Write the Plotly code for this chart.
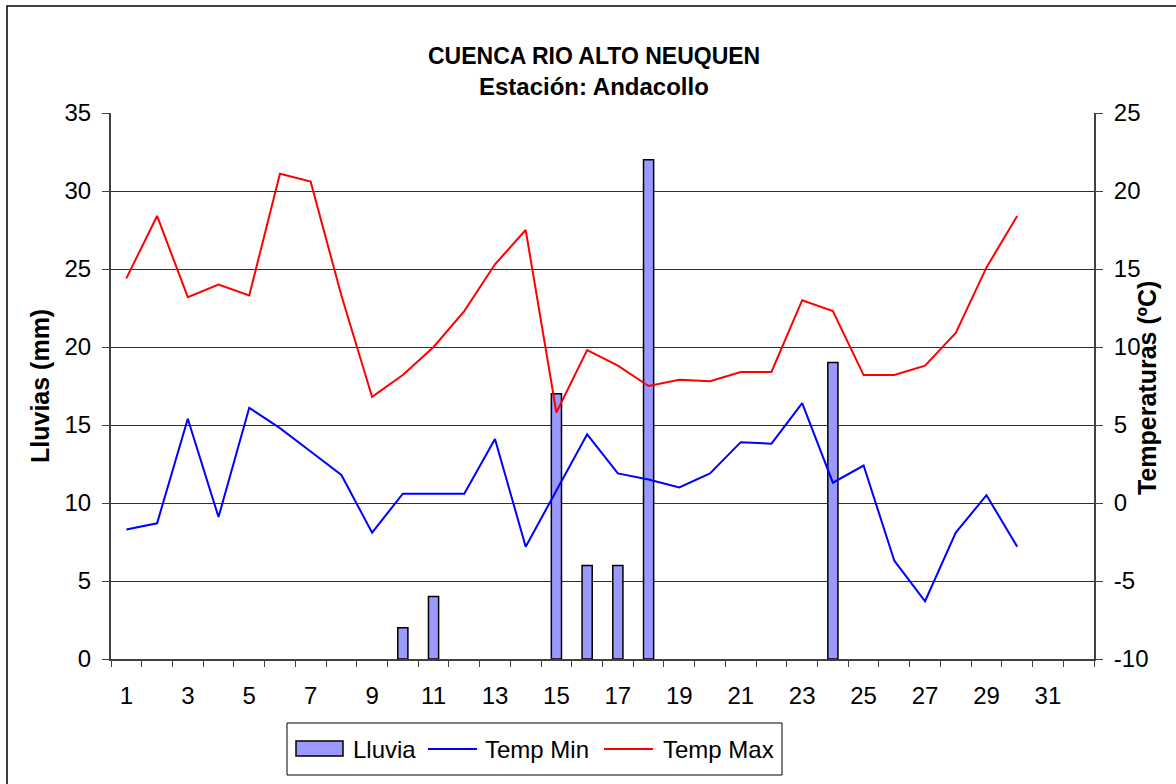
import plotly.graph_objects as go

days = [str(d) for d in range(1, 33)]
tick_text = [str(d) if d % 2 == 1 else "" for d in range(1, 33)]

lluvia = [0, 0, 0, 0, 0, 0, 0, 0, 0, 2, 4, 0, 0, 0, 17, 6, 6, 32, 0, 0,
          0, 0, 0, 19, 0, 0, 0, 0, 0, 0]
temp_min = [-1.7, -1.3, 5.4, -0.9, 6.1, 4.8, 3.3, 1.8, -1.9, 0.6,
            0.6, 0.6, 4.1, -2.8, 0.8, 4.4, 1.9, 1.5, 1.0, 1.9,
            3.9, 3.8, 6.4, 1.3, 2.4, -3.7, -6.3, -1.9, 0.5, -2.8]
temp_max = [14.4, 18.4, 13.2, 14.0, 13.3, 21.1, 20.6, 13.3, 6.8, 8.2,
            10.0, 12.3, 15.3, 17.5, 5.8, 9.8, 8.8, 7.5, 7.9, 7.8,
            8.4, 8.4, 13.0, 12.3, 8.2, 8.2, 8.8, 10.9, 15.1, 18.4]

left_ticks = [0, 5, 10, 15, 20, 25, 30, 35]
right_ticks = [-10, -5, 0, 5, 10, 15, 20, 25]

FONT = "Liberation Sans, Arial, sans-serif"
BAR_FILL = "#9999FF"
MIN_COLOR = "#0000FF"
MAX_COLOR = "#FF0000"

# Excel draws nothing for zero-rain days
rain_x = [days[i] for i, v in enumerate(lluvia) if v > 0]
rain_y = [v for v in lluvia if v > 0]

fig = go.Figure()
fig.add_trace(go.Bar(
    x=rain_x, y=rain_y, name="Lluvia", width=0.33,
    marker=dict(color=BAR_FILL, line=dict(color="#000000", width=1.5)),
    yaxis="y"))
fig.add_trace(go.Scatter(
    x=days[:len(temp_min)], y=temp_min, name="Temp Min", mode="lines",
    line=dict(color=MIN_COLOR, width=2), yaxis="y2"))
fig.add_trace(go.Scatter(
    x=days[:len(temp_max)], y=temp_max, name="Temp Max", mode="lines",
    line=dict(color=MAX_COLOR, width=2), yaxis="y2"))

L, R, T, B = 111, 82, 113, 125
W, H = 1176, 784
pw, ph = W - L - R, H - T - B

def px(x):
    return (x - L) / pw

def py(y):
    return (H - B - y) / ph

# manual legend (Excel style: wide bar swatch)
shapes = [
    dict(type="rect", xref="paper", yref="paper",
         x0=px(7), x1=px(1190), y0=py(800), y1=py(6),
         line=dict(color="#000000", width=1.5), fillcolor="rgba(0,0,0,0)", layer="below"),
    dict(type="rect", xref="paper", yref="paper",
         x0=px(287), x1=px(782), y0=py(775), y1=py(723),
         line=dict(color="#000000", width=1), fillcolor="white"),
    dict(type="rect", xref="paper", yref="paper",
         x0=px(296), x1=px(343), y0=py(756), y1=py(741),
         line=dict(color="#000000", width=1.5), fillcolor=BAR_FILL),
    dict(type="line", xref="paper", yref="paper",
         x0=px(428), x1=px(477), y0=py(749), y1=py(749),
         line=dict(color=MIN_COLOR, width=2)),
    dict(type="line", xref="paper", yref="paper",
         x0=px(604), x1=px(653), y0=py(749), y1=py(749),
         line=dict(color=MAX_COLOR, width=2)),
]

annotations = [
    dict(text="<b>CUENCA RIO ALTO NEUQUEN</b>", xref="paper", yref="paper",
         x=px(594), y=py(56), xanchor="center", yanchor="middle",
         showarrow=False, font=dict(family=FONT, size=23)),
    dict(text="<b>Estación: Andacollo</b>", xref="paper", yref="paper",
         x=px(594), y=py(87), xanchor="center", yanchor="middle",
         showarrow=False, font=dict(family=FONT, size=24)),
    dict(text="<b>Lluvias (mm)</b>", xref="paper", yref="paper",
         x=px(40), y=py(386), xanchor="center", yanchor="middle", textangle=-90,
         showarrow=False, font=dict(family=FONT, size=25)),
    dict(text="<b>Temperaturas (ºC)</b>", xref="paper", yref="paper",
         x=px(1147), y=py(388), xanchor="center", yanchor="middle", textangle=-90,
         showarrow=False, font=dict(family=FONT, size=25)),
    dict(text="Lluvia", xref="paper", yref="paper",
         x=px(351), y=py(749), xanchor="left", yanchor="middle",
         showarrow=False, font=dict(family=FONT, size=24)),
    dict(text="Temp Min", xref="paper", yref="paper",
         x=px(483), y=py(749), xanchor="left", yanchor="middle",
         showarrow=False, font=dict(family=FONT, size=24)),
    dict(text="Temp Max", xref="paper", yref="paper",
         x=px(661), y=py(749), xanchor="left", yanchor="middle",
         showarrow=False, font=dict(family=FONT, size=24)),
]

fig.update_layout(
    width=W, height=H,
    margin=dict(l=L, r=R, t=T, b=B, autoexpand=False),
    paper_bgcolor="white", plot_bgcolor="white",
    font=dict(family=FONT, size=24, color="#000000"),
    showlegend=False,
    xaxis=dict(
        type="category", categoryorder="array", categoryarray=days,
        range=[-0.5, 31.5], tickmode="array", tickvals=days, ticktext=tick_text,
        tickson="boundaries", ticks="outside", ticklen=6, tickcolor="#404040",
        showline=True, linecolor="#404040", linewidth=2, showgrid=False,
        zeroline=False, ticklabelstandoff=14, tickangle=0, automargin=False,
        tickfont=dict(family=FONT, size=24)),
    yaxis=dict(
        range=[0, 35], tickmode="array", tickvals=left_ticks,
        ticktext=[str(v) for v in left_ticks],
        ticks="outside", ticklen=7, tickcolor="#404040",
        showline=True, linecolor="#404040", linewidth=2,
        showgrid=True, gridcolor="#303030", gridwidth=1, zeroline=False,
        ticklabelstandoff=6, automargin=False,
        tickfont=dict(family=FONT, size=24)),
    yaxis2=dict(
        range=[-10, 25], overlaying="y", side="right", tickmode="array",
        tickvals=right_ticks, ticktext=[str(v) for v in right_ticks],
        ticks="outside", ticklen=7, tickcolor="#404040",
        showline=True, linecolor="#404040", linewidth=2,
        showgrid=False, zeroline=False, ticklabelstandoff=6, automargin=False,
        tickfont=dict(family=FONT, size=24)),
    shapes=shapes,
    annotations=annotations,
)

fig.write_html(
    "out.html",
    config={"displayModeBar": False},
    post_script="document.body.style.margin='0';document.body.style.overflow='hidden';",
)
